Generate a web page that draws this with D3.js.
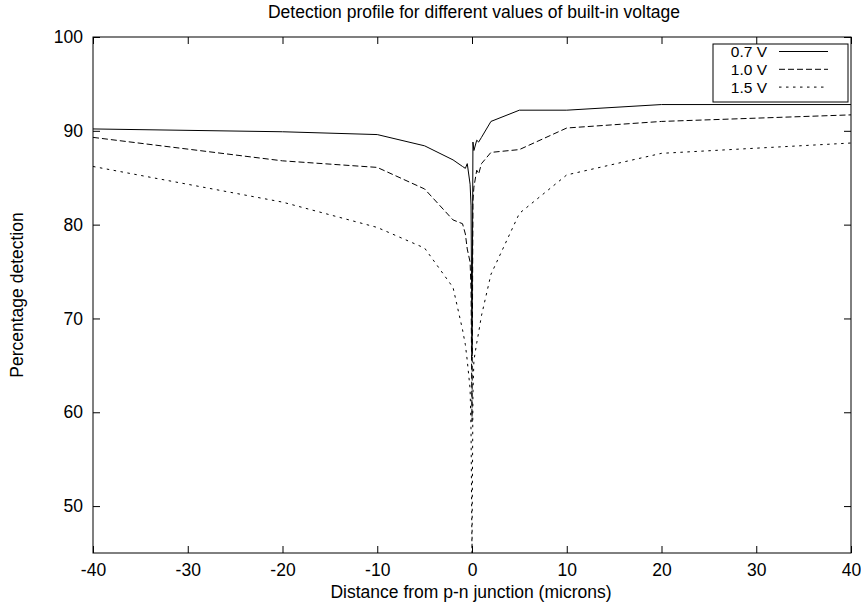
<!DOCTYPE html>
<html>
<head>
<meta charset="utf-8">
<script src="https://cdn.jsdelivr.net/npm/d3@7"></script>
<style>
  html, body { margin: 0; padding: 0; background: #fff; }
  svg { display: block; }
  text { font-family: "Liberation Sans", Arial, Helvetica, sans-serif; fill: #000; }
</style>
</head>
<body>
<svg id="chart" width="861" height="605"></svg>
<script>
// ---- data ----
const distances = [-40, -20, -10, -5, -2, -1, -0.7, -0.5, -0.2, -0.1, 0, 0.1, 0.2, 0.5, 0.7, 1, 2, 5, 10, 20, 40];
const det07 = [90.2, 89.9, 89.6, 88.4, 86.9, 86.2, 86.0, 86.5, 84.3, 82.0, 66.0, 88.8, 87.9, 89.0, 88.8, 89.3, 91.0, 92.2, 92.2, 92.8, 92.8];
const det10 = [89.3, 86.8, 86.1, 83.8, 80.5, 80.1, 79.0, 77.4, 76.0, 73.0, 59.0, 82.5, 84.0, 85.8, 85.4, 86.5, 87.7, 88.0, 90.3, 91.0, 91.7];
const det15 = [86.2, 82.4, 79.7, 77.5, 73.3, 68.8, 67.2, 65.5, 62.5, 58.0, 45.0, 62.0, 65.5, 67.4, 68.5, 70.3, 74.7, 81.2, 85.3, 87.6, 88.7];
const seriesNames = ["0.7 V", "1.0 V", "1.5 V"];
const xTicks = [-40, -30, -20, -10, 0, 10, 20, 30, 40];
const yTicks = [50, 60, 70, 80, 90, 100];
const titleText = "Detection profile for different values of built-in voltage";
const xLabel = "Distance from p-n junction (microns)";
const yLabel = "Percentage detection";

// ---- layout ----
const W = 861, H = 605;
const m = { left: 93, right: 10, top: 37, bottom: 52 };
const svg = d3.select("#chart");
const x = d3.scaleLinear().domain([-40, 40]).range([m.left, W - m.right]);
const y = d3.scaleLinear().domain([45, 100]).range([H - m.bottom, m.top]);
const fs = 17.5;
const legFs = 15.5;
const tickLen = 7;
const fmt = d => String(d); // hyphen-minus like the reference

const dashes = [null, "6,3", "2.5,4.5"];
const seriesData = [det07, det10, det15];

svg.append("clipPath").attr("id", "clip")
  .append("rect").attr("x", m.left).attr("y", m.top)
  .attr("width", W - m.left - m.right).attr("height", H - m.top - m.bottom);

// ticks (inward, mirrored)
const g = svg.append("g");
const xb = g.append("g").attr("transform", `translate(0,${H - m.bottom})`)
  .call(d3.axisBottom(x).tickValues(xTicks).tickSizeInner(-tickLen).tickSizeOuter(0).tickPadding(11).tickFormat(fmt));
const xt = g.append("g").attr("transform", `translate(0,${m.top})`)
  .call(d3.axisTop(x).tickValues(xTicks).tickSizeInner(-tickLen).tickSizeOuter(0).tickFormat(""));
const yl = g.append("g").attr("transform", `translate(${m.left},0)`)
  .call(d3.axisLeft(y).tickValues(yTicks).tickSizeInner(-tickLen).tickSizeOuter(0).tickPadding(10).tickFormat(fmt));
const yr = g.append("g").attr("transform", `translate(${W - m.right},0)`)
  .call(d3.axisRight(y).tickValues(yTicks).tickSizeInner(-tickLen).tickSizeOuter(0).tickFormat(""));
[xb, xt, yl, yr].forEach(a => {
  a.select(".domain").remove();
  a.selectAll("line").attr("stroke", "#000");
  a.selectAll("text").style("font-family", '"Liberation Sans", Arial, sans-serif').style("font-size", fs + "px").attr("fill", "#000");
});

// border
svg.append("rect").attr("x", m.left).attr("y", m.top)
  .attr("width", W - m.left - m.right).attr("height", H - m.top - m.bottom)
  .attr("fill", "none").attr("stroke", "#000").attr("stroke-width", 1);

// lines
const line = d3.line().x((d, i) => x(distances[i])).y(d => y(d));
const lg = svg.append("g").attr("clip-path", "url(#clip)");
seriesData.forEach((s, k) => {
  lg.append("path").datum(s).attr("d", line)
    .attr("fill", "none").attr("stroke", "#000").attr("stroke-width", 1)
    .attr("stroke-dasharray", dashes[k]);
});

// legend
const lgx0 = 713, lgx1 = 848, lgy0 = 44, lgy1 = 102, rowH = 17.8;
svg.append("rect").attr("x", lgx0).attr("y", lgy0).attr("width", lgx1 - lgx0).attr("height", lgy1 - lgy0)
  .attr("fill", "#fff").attr("stroke", "#000");
seriesNames.forEach((nm, k) => {
  const cy = 51.5 + k * rowH;
  svg.append("text").attr("x", 767).attr("y", cy).attr("dy", "0.35em")
    .attr("text-anchor", "end").style("font-size", legFs + "px").text(nm);
  svg.append("line").attr("x1", 779).attr("x2", 828).attr("y1", cy).attr("y2", cy)
    .attr("stroke", "#000").attr("stroke-dasharray", dashes[k]);
});

// titles
svg.append("text").attr("x", 474).attr("y", 18).attr("text-anchor", "middle")
  .style("font-size", fs + "px").text(titleText);
svg.append("text").attr("x", 471).attr("y", 598).attr("text-anchor", "middle")
  .style("font-size", fs + "px").text(xLabel);
svg.append("text").attr("transform", `translate(17,${(m.top + H - m.bottom) / 2}) rotate(-90)`)
  .attr("dy", "0.35em").attr("text-anchor", "middle").style("font-size", fs + "px").text(yLabel);
</script>
</body>
</html>
